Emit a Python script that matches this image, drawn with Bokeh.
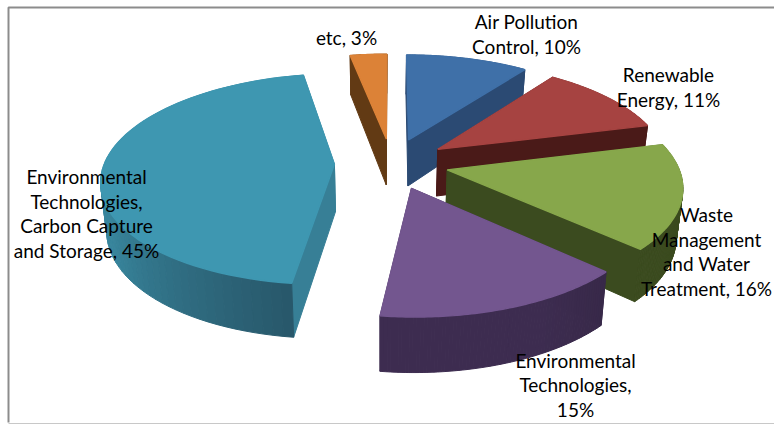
from bokeh.core.properties import value
from bokeh.embed import file_html
from bokeh.models import Range1d
from bokeh.plotting import figure
from bokeh.resources import INLINE
import numpy as np

# Market shares, clockwise from twelve o'clock
segments = ["Air Pollution Control", "Renewable Energy",
            "Waste Management and Water Treatment", "Environmental Technologies",
            "Environmental Technologies, Carbon Capture and Storage", "etc"]
shares = [10, 11, 16, 15, 45, 3]
label_lines = [["Air Pollution", "Control, 10%"],
               ["Renewable", "Energy, 11%"],
               ["Waste", "Management", "and Water", "Treatment, 16%"],
               ["Environmental", "Technologies,", "15%"],
               ["Environmental", "Technologies,", "Carbon Capture", "and Storage, 45%"],
               ["etc, 3%"]]
label_centres = [(526, 33.5), (668, 86.5), (706, 251), (575, 384), (86, 213), (346, 37)]
top_colours = ["#3f70a8", "#a64341", "#87a74b", "#73568f", "#3e97b1", "#dc8237"]
cut_colours = ["#2b4a73", "#4a1a18", "#3b4b1f", "#37284a", "#377f96", "#623a14"]
wall_dark = ["#2b4a73", "#4a1a18", "#3b4b1f", "#382949", "#28586b", "#623a14"]
wall_light = ["#2b4a73", "#4a1a18", "#3b4b1f", "#3d2c50", "#38859c", "#623a14"]

# Projection of the pie plane onto the page
CX, CY = 391.0, 163.0
SCALE_X, SCALE_Y = 230.0, 103.0
PERSPECTIVE = 0.14
EXPLODE = 0.248
FLOOR_X = 380.0
FLOOR_PULL = 0.022


def project(u, v):
    w = 1.0 / (1.0 + PERSPECTIVE * v)
    return CX + SCALE_X * u * w, CY - SCALE_Y * v * w


def thickness(v):
    return 47.5 - 6.5 * v


def mix(a, b, t):
    ca = [int(a[i:i + 2], 16) for i in (1, 3, 5)]
    cb = [int(b[i:i + 2], 16) for i in (1, 3, 5)]
    return "#%02x%02x%02x" % tuple(int(round(x + (y - x) * t)) for x, y in zip(ca, cb))


p = figure(width=774, height=424, output_backend="svg", toolbar_location=None,
           x_range=Range1d(0, 774), y_range=Range1d(424, 0), min_border=0)
p.xaxis.visible = False
p.yaxis.visible = False
p.grid.visible = False
p.outline_line_color = None

# Chart frame
p.line([8, 8, 774], [422, 7, 7], line_color="#8c8c8c", line_width=2)
p.line([8, 774], [423, 423], line_color="#c8c8c8", line_width=1)


def extruded(u, v):
    # Top corner of a wall and the matching floor corner below it
    x, y = project(u, v)
    return x, y, x + (FLOOR_X - x) * FLOOR_PULL, y + thickness(v)


def draw_slice(start, stop, index):
    mid = (start + stop) / 2
    cu, cv = EXPLODE * np.sin(mid), EXPLODE * np.cos(mid)
    angles = np.linspace(start, stop, 72)
    us = cu + np.sin(angles)
    vs = cv + np.cos(angles)

    faces = []
    # Flat cut faces running from the apex out to the rim
    for us_end, vs_end in ((us[0], vs[0]), (us[-1], vs[-1])):
        x0, y0, fx0, b0 = extruded(cu, cv)
        x1, y1, fx1, b1 = extruded(us_end, vs_end)
        faces.append(((cv + vs_end) / 2, [x0, x1, fx1, fx0], [y0, y1, b1, b0], cut_colours[index]))
    # Curved rim, brightening away from the front edge of the slice
    for i in range(len(angles) - 1):
        x0, y0, fx0, b0 = extruded(us[i], vs[i])
        x1, y1, fx1, b1 = extruded(us[i + 1], vs[i + 1])
        t = min(1.0, i / (len(angles) - 2) / 0.35)
        faces.append(((vs[i] + vs[i + 1]) / 2, [x0, x1, fx1, fx0], [y0, y1, b1, b0],
                      mix(wall_dark[index], wall_light[index], t)))

    for _, fx, fy, colour in sorted(faces, key=lambda f: -f[0]):
        p.patch(fx, fy, fill_color=colour, line_color=colour, line_width=1.0)

    xs, ys = project(np.concatenate(([cu], us)), np.concatenate(([cv], vs)))
    p.patch(list(xs), list(ys), fill_color=top_colours[index], line_color=top_colours[index],
            line_width=1.4)


edges = np.cumsum([0] + shares) / sum(shares) * 2 * np.pi
# Painter's order, farthest slices first
for idx in [0, 5, 1, 2, 4, 3]:
    draw_slice(edges[idx], edges[idx + 1], idx)

LINE_STEP = 24.5
for lines, (lx, ly) in zip(label_lines, label_centres):
    n = len(lines)
    for k, line in enumerate(lines):
        p.text([lx], [ly + (k - (n - 1) / 2) * LINE_STEP], text=[line],
               text_font=value("Lato"), text_font_size="19px", text_color="#000000",
               text_align="center", text_baseline="middle")

open("out.html", "w").write(file_html(p, INLINE))
